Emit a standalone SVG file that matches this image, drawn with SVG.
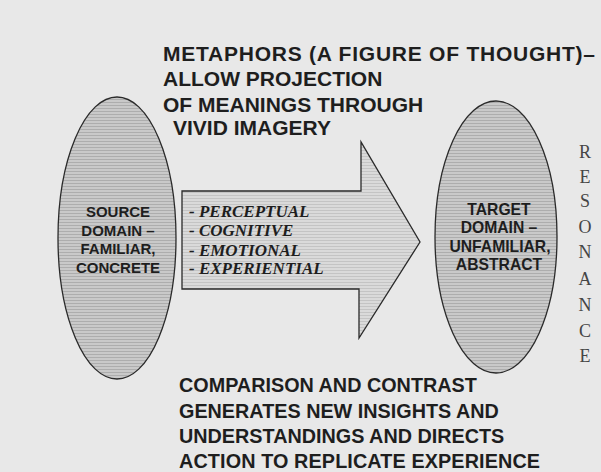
<svg xmlns="http://www.w3.org/2000/svg" width="601" height="472" viewBox="0 0 601 472">
  <defs>
    <pattern id="hatch" width="4" height="3" patternUnits="userSpaceOnUse">
      <rect width="4" height="3" fill="#c9c9c9"/>
      <rect width="4" height="1" fill="#adadad"/>
    </pattern>
    <pattern id="hatchLight" width="4" height="3" patternUnits="userSpaceOnUse">
      <rect width="4" height="3" fill="#dadada"/>
      <rect width="4" height="1" fill="#c4c4c4"/>
    </pattern>
  </defs>
  <style>
    .bg { fill: #e8e8e8; }
    .domain { fill: url(#hatch); stroke: #2a2a2a; stroke-width: 1.3; }
    .arrow { fill: url(#hatchLight); stroke: #2a2a2a; stroke-width: 1.3; }
    .head { font-family: "Liberation Sans", Arial, sans-serif; font-weight: bold; font-size: 21px; fill: #1e1e1e; }
    .foot { font-family: "Liberation Sans", Arial, sans-serif; font-weight: bold; font-size: 19.8px; fill: #1e1e1e; }
    .dom { font-family: "Liberation Sans", Arial, sans-serif; font-weight: bold; font-size: 15px; fill: #1e1e1e; text-anchor: middle; }
    .tgt { font-size: 15.7px; }
    .list { font-family: "Liberation Serif", "Times New Roman", serif; font-weight: bold; font-style: italic; font-size: 17px; fill: #1e1e1e; }
    .res { font-family: "Liberation Serif", "Times New Roman", serif; font-size: 18px; fill: #454545; text-anchor: middle; }
  </style>
  <rect class="bg" x="0" y="0" width="601" height="472"/>

  <g id="connectors">
    <polygon id="mapping-arrow" class="arrow" points="182,191 361,191 361,142 420,242 359,338 359,289 182,289"/>
  </g>

  <g id="source">
    <ellipse class="domain" cx="117" cy="238" rx="59" ry="141"/>
    <text class="dom" x="118" y="217">SOURCE</text>
    <text class="dom" x="118" y="236">DOMAIN –</text>
    <text class="dom" x="118" y="254">FAMILIAR,</text>
    <text class="dom" x="118" y="273">CONCRETE</text>
  </g>

  <g id="target">
    <ellipse class="domain" cx="496" cy="237" rx="61" ry="136"/>
    <text class="dom tgt" x="499" y="215">TARGET</text>
    <text class="dom tgt" x="499" y="233">DOMAIN –</text>
    <text class="dom tgt" x="500" y="252">UNFAMILIAR,</text>
    <text class="dom tgt" x="499" y="270">ABSTRACT</text>
  </g>

  <g id="mapping-list">
    <text class="list" x="189" y="217">- PERCEPTUAL</text>
    <text class="list" x="189" y="236">- COGNITIVE</text>
    <text class="list" x="189" y="256">- EMOTIONAL</text>
    <text class="list" x="189" y="274">- EXPERIENTIAL</text>
  </g>

  <g id="top-caption">
    <text class="head" x="163" y="61" textLength="432" lengthAdjust="spacing">METAPHORS (A FIGURE OF THOUGHT)–</text>
    <text class="head" x="163" y="86">ALLOW PROJECTION</text>
    <text class="head" x="163" y="112">OF MEANINGS THROUGH</text>
    <text class="head" x="173" y="135">VIVID IMAGERY</text>
  </g>

  <g id="bottom-caption">
    <text class="foot" x="179" y="392">COMPARISON AND CONTRAST</text>
    <text class="foot" x="179" y="418">GENERATES NEW INSIGHTS AND</text>
    <text class="foot" x="179" y="443">UNDERSTANDINGS AND DIRECTS</text>
    <text class="foot" x="179" y="468" textLength="361" lengthAdjust="spacing">ACTION TO REPLICATE EXPERIENCE</text>
  </g>

  <g id="resonance">
    <text class="res" x="585" y="158">R</text>
    <text class="res" x="585" y="183">E</text>
    <text class="res" x="585" y="207">S</text>
    <text class="res" x="585" y="233">O</text>
    <text class="res" x="585" y="258">N</text>
    <text class="res" x="585" y="285">A</text>
    <text class="res" x="585" y="311">N</text>
    <text class="res" x="585" y="337">C</text>
    <text class="res" x="585" y="362">E</text>
  </g>
</svg>
